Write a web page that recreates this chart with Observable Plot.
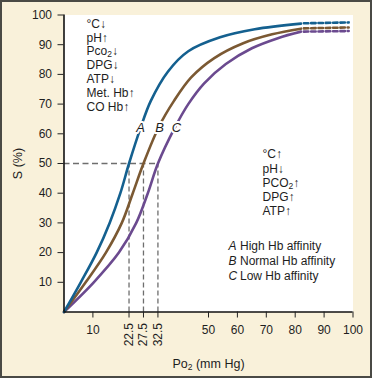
<!DOCTYPE html>
<html><head><meta charset="utf-8">
<script src="https://cdn.jsdelivr.net/npm/d3@7"></script>
<script src="https://cdn.jsdelivr.net/npm/@observablehq/plot@0.6"></script>
<style>
html,body{margin:0;padding:0;background:#f9f1da;}
#chart svg{display:block;outline:2px solid #4a4a45;outline-offset:-2px;}
</style></head><body><div id="chart"></div>
<script>
// Oxygen dissociation curves
const po2A = [0, 5.8, 11.3, 15.8, 19.5, 22.5, 26.5, 30, 36, 43, 54, 66, 82];
const satA = [0, 10, 20, 30, 40, 50, 62, 71, 81, 87.8, 92.5, 95.2, 97.1];
const po2B = [0, 7.5, 14.5, 20, 23.8, 27.5, 32.8, 38, 44, 52, 62, 72, 82];
const satB = [0, 10, 20, 30, 40, 50, 62.3, 71, 79, 85.5, 90.5, 93.5, 95.4];
const po2C = [0, 10.3, 19, 25, 29, 32.5, 38.3, 43, 48.5, 56, 65, 74, 82];
const satC = [0, 10, 20, 30, 40, 50, 62, 70, 77, 83.5, 88.8, 92.2, 94.4];
// dashed extensions
const dashPo2 = [83, 98.5];
const dashA = [97.2, 97.5];
const dashB = [95.5, 95.8];
const dashC = [94.4, 94.6];
// P50 reference values
const refPo2 = [22.5, 27.5, 32.5];
const refSat = 50;
// curve labels
const curveLabels = ["A", "B", "C"];
const labelPo2 = [26.5, 33.1, 38.9];
const labelSat = [62, 62, 62];
// ticks
const yTicks = [10, 20, 30, 40, 50, 60, 70, 80, 90, 100];
const xTicks = [10, 50, 60, 70, 80, 90, 100];
// texts
const leftFactors = ["°C↓", "pH↑", "Pco₂↓", "DPG↓", "ATP↓", "Met. Hb↑", "CO Hb↑"];
const rightFactors = ["°C↑", "pH↓", "PCO₂↑", "DPG↑", "ATP↑"];
const legendLetters = ["A", "B", "C"];
const legendTexts = ["High Hb affinity", "Normal Hb affinity", "Low Hb affinity"];
const xLabel = "Po₂ (mm Hg)";
const yLabel = "S (%)";

const colors = {A: "#14608f", B: "#7b5933", C: "#6b4a8f"};

const rows = (po2, sat) => po2.map((x, i) => ({x, y: sat[i]}));
const txt = "#1e1e1e";
const lineOpts = (c) => ({x: "x", y: "y", stroke: c, strokeWidth: 2.6, curve: "catmull-rom"});
const dashOpts = (c) => ({x: "x", y: "y", stroke: c, strokeWidth: 2.6, strokeDasharray: "4.5,2.8"});

const chart = Plot.plot({
  width: 372, height: 378,
  marginLeft: 63.5, marginRight: 19.5, marginTop: 14.5, marginBottom: 66.5,
  style: {background: "#f9f1da", fontFamily: "'Liberation Sans', Arial, sans-serif", fontSize: "12px", color: txt},
  x: {domain: [0, 100]},
  y: {domain: [0, 100]},
  marks: [
    Plot.frame({fill: "white", stroke: "none"}),
    Plot.ruleY([refSat], {y: d => d, x1: 0, x2: d3.max(refPo2), stroke: "#6e6e6e", strokeWidth: 1.3, strokeDasharray: "6,3.5"}),
    Plot.ruleX(refPo2, {x: d => d, y1: 0, y2: refSat, stroke: "#6e6e6e", strokeWidth: 1.3, strokeDasharray: "5,3"}),
    Plot.line(rows(po2C, satC), lineOpts(colors.C)),
    Plot.line(rows(po2B, satB), lineOpts(colors.B)),
    Plot.line(rows(po2A, satA), lineOpts(colors.A)),
    Plot.line(rows(dashPo2, dashC), dashOpts(colors.C)),
    Plot.line(rows(dashPo2, dashB), dashOpts(colors.B)),
    Plot.line(rows(dashPo2, dashA), dashOpts(colors.A)),
    Plot.text(curveLabels, {x: (d, i) => labelPo2[i], y: (d, i) => labelSat[i], text: d => d,
      fontStyle: "italic", fontSize: 13, fill: txt, stroke: "white", strokeWidth: 4}),
    Plot.ruleX([0], {stroke: "#111", strokeWidth: 1.6}),
    Plot.ruleY([0], {stroke: "#111", strokeWidth: 1.6}),
    Plot.axisY({ticks: yTicks, tickSize: 6, tickPadding: 6, label: null, fontSize: 12, stroke: "#222"}),
    Plot.axisX({ticks: xTicks, tickSize: 6, tickPadding: 7, label: null, fontSize: 12, stroke: "#222"}),
    Plot.axisX({ticks: refPo2, tickSize: 6, tickPadding: 5, tickRotate: -90, label: null, fontSize: 12, stroke: "#222",
      tickFormat: d => d.toFixed(1)}),
    Plot.text([leftFactors.join("\n")], {text: d => d, frameAnchor: "top-left", dx: 22.5, dy: 3,
      lineAnchor: "top", textAnchor: "start", lineHeight: 1.15, fontSize: 12, fill: txt}),
    Plot.text([rightFactors.join("\n")], {text: d => d, frameAnchor: "top-left", dx: 198.5, dy: 133.5,
      lineAnchor: "top", textAnchor: "start", lineHeight: 1.17, fontSize: 12, fill: txt}),
    Plot.text([legendLetters.join("\n")], {text: d => d, frameAnchor: "top-left", dx: 164.5, dy: 223.5,
      lineAnchor: "top", textAnchor: "start", lineHeight: 1.29, fontSize: 12, fontStyle: "italic", fill: txt}),
    Plot.text([legendTexts.join("\n")], {text: d => d, frameAnchor: "top-left", dx: 176, dy: 223.5,
      lineAnchor: "top", textAnchor: "start", lineHeight: 1.29, fontSize: 12, fill: txt}),
    Plot.text([yLabel], {text: d => d, frameAnchor: "left", dx: -46.5, rotate: -90,
      textAnchor: "middle", lineAnchor: "middle", fontSize: 12.5, fill: txt}),
    Plot.text([xLabel], {text: d => d, frameAnchor: "bottom", dy: 51.5,
      textAnchor: "middle", lineAnchor: "middle", fontSize: 12.5, fill: txt})
  ]
});

// turn "₂" into real subscripts
function subscript(root) {
  const ns = "http://www.w3.org/2000/svg";
  const walker = document.createTreeWalker(root, NodeFilter.SHOW_TEXT);
  const nodes = [];
  while (walker.nextNode()) if (walker.currentNode.nodeValue.includes("₂")) nodes.push(walker.currentNode);
  for (const n of nodes) {
    const [before, after] = n.nodeValue.split("₂");
    const parent = n.parentNode;
    const sub = document.createElementNS(ns, "tspan");
    sub.setAttribute("dy", "2");
    sub.style.fontSize = "8.5px";
    sub.textContent = "2";
    const rest = document.createElementNS(ns, "tspan");
    rest.setAttribute("dy", "-2");
    rest.textContent = after;
    n.nodeValue = before;
    parent.insertBefore(sub, n.nextSibling);
    parent.insertBefore(rest, sub.nextSibling);
  }
}
subscript(chart);
document.getElementById("chart").appendChild(chart);
</script></body></html>
